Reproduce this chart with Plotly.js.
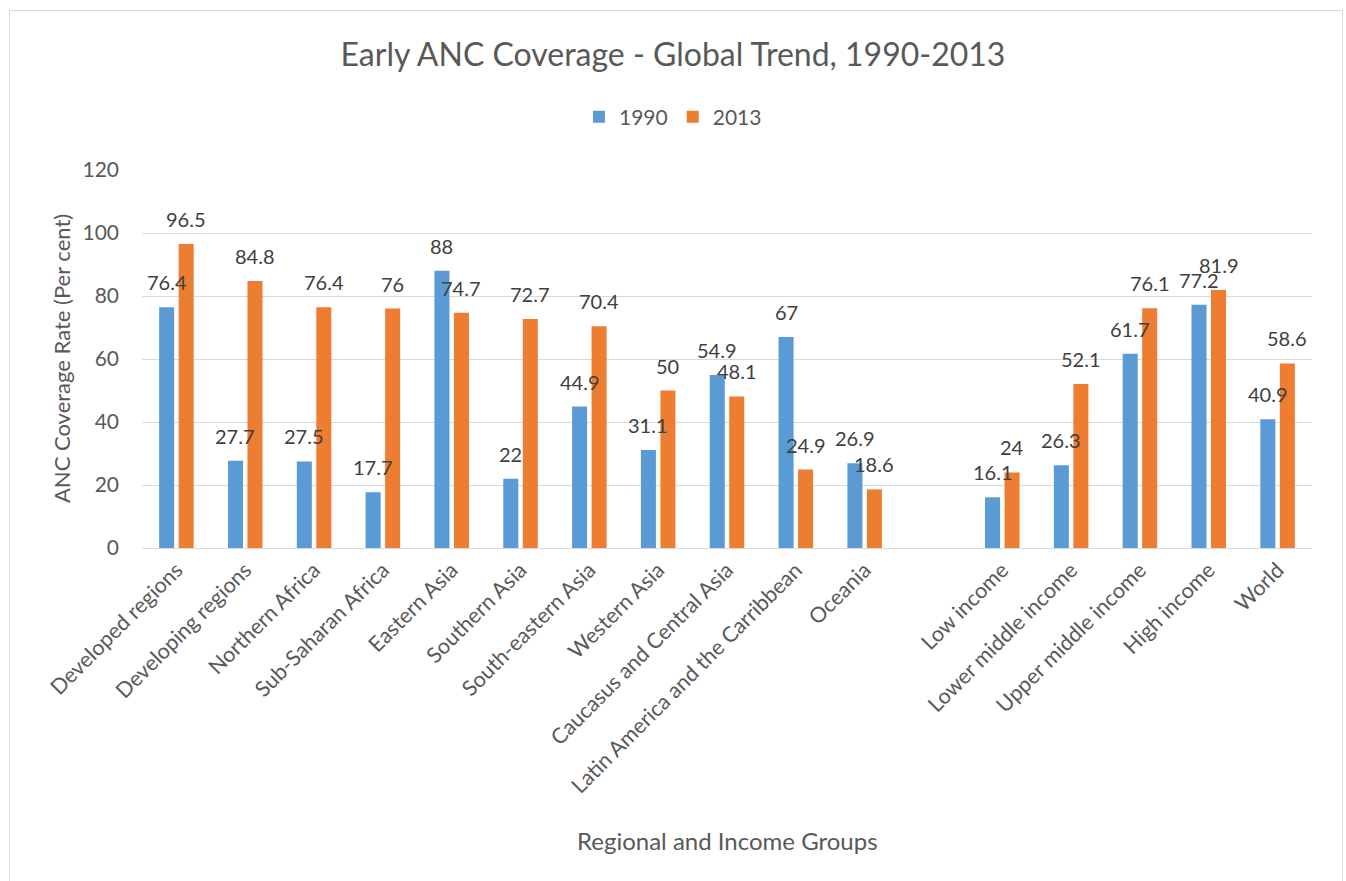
<!DOCTYPE html>
<html>
<head>
<meta charset="utf-8">
<script src="https://cdn.plot.ly/plotly-3.0.1.min.js"></script>
<style>
  html, body { margin: 0; padding: 0; background: #ffffff; }
  #chart { width: 1346px; height: 881px; }
  #frame { position: absolute; left: 9px; top: 10px; width: 1332px; height: 880px; border: 1px solid #d9d9d9; pointer-events: none; }
</style>
</head>
<body>
<div id="chart"></div>
<div id="frame"></div>
<script>
const categories = [
  "Developed regions", "Developing regions", "Northern Africa", "Sub-Saharan Africa",
  "Eastern Asia", "Southern Asia", "South-eastern Asia", "Western Asia",
  "Caucasus and Central Asia", "Latin America and the Carribbean", "Oceania", " ",
  "Low income", "Lower middle income", "Upper middle income", "High income", "World"
];
const values1990 = [76.4, 27.7, 27.5, 17.7, 88, 22, 44.9, 31.1, 54.9, 67, 26.9, null, 16.1, 26.3, 61.7, 77.2, 40.9];
const values2013 = [96.5, 84.8, 76.4, 76, 74.7, 72.7, 70.4, 50, 48.1, 24.9, 18.6, null, 24, 52.1, 76.1, 81.9, 58.6];
const seriesNames = ["1990", "2013"];
const yTicks = [0, 20, 40, 60, 80, 100, 120];
const xTitle = "Regional and Income Groups";
const yTitle = "ANC Coverage Rate (Per cent)";

const FONT = "Lato, Open Sans, sans-serif";
const colors = ["#5b9bd5", "#ed7d31"];
const series = [values1990, values2013];

const traces = series.map((vals, s) => ({
  type: "bar",
  name: seriesNames[s],
  x: categories,
  y: vals,
  marker: { color: colors[s], line: { width: 0 } },
  hoverinfo: "x+y+name"
}));

const annotations = [];
const shiftPx = 9.75;
series.forEach((vals, s) => {
  vals.forEach((v, i) => {
    if (v === null) return;
    annotations.push({
      x: categories[i], y: v, xref: "x", yref: "y",
      text: String(v), showarrow: false,
      xanchor: "center", yanchor: "bottom",
      xshift: s === 0 ? -shiftPx : shiftPx, yshift: 11,
      font: { family: FONT, size: 20, color: "#404040" }
    });
  });
});

// axis titles (placed as annotations in paper space)
annotations.push({
  xref: "paper", yref: "paper", x: 0.5, y: -0.775,
  xanchor: "center", yanchor: "middle", showarrow: false,
  text: xTitle, font: { family: FONT, size: 24, color: "#595959" }
});
annotations.push({
  xref: "paper", yref: "paper", x: -0.0692, y: 0.5,
  xanchor: "center", yanchor: "middle", showarrow: false, textangle: -90,
  text: yTitle, font: { family: FONT, size: 22, color: "#595959" }
});

const layout = {
  width: 1346, height: 881,
  paper_bgcolor: "#ffffff", plot_bgcolor: "#ffffff",
  margin: { l: 142, r: 34, t: 170, b: 333, autoexpand: false },
  font: { family: FONT, color: "#595959" },
  title: {
    text: "Early ANC Coverage - Global Trend, 1990-2013",
    font: { family: FONT, size: 32, color: "#595959" },
    x: 0.5, xref: "container", xanchor: "center",
    y: 1 - 55 / 881, yref: "container", yanchor: "middle"
  },
  showlegend: true,
  legend: {
    orientation: "h",
    x: 0.5, xref: "container", xanchor: "center",
    y: 1 - 117 / 881, yref: "container", yanchor: "middle",
    font: { family: FONT, size: 21, color: "#595959" },
    itemwidth: 30, traceorder: "normal"
  },
  barmode: "group",
  bargap: 0.433,
  bargroupgap: 0.23,
  xaxis: {
    type: "category",
    categoryorder: "array", categoryarray: categories,
    tickangle: -45,
    tickfont: { family: FONT, size: 21.5, color: "#595959" },
    showgrid: false,
    showline: true, linecolor: "#d9d9d9", linewidth: 1,
    ticks: "",
    automargin: false
  },
  yaxis: {
    range: [0, 120],
    tickvals: yTicks,
    ticktext: yTicks.map(String),
    tickfont: { family: FONT, size: 21, color: "#595959" },
    showgrid: true, gridcolor: "#d9d9d9", gridwidth: 1,
    zeroline: false, showline: false,
    ticks: "", ticklabelstandoff: 22,
    automargin: false
  },
  annotations: annotations
};

Plotly.newPlot("chart", traces, layout, { displayModeBar: false, responsive: false });
</script>
</body>
</html>
